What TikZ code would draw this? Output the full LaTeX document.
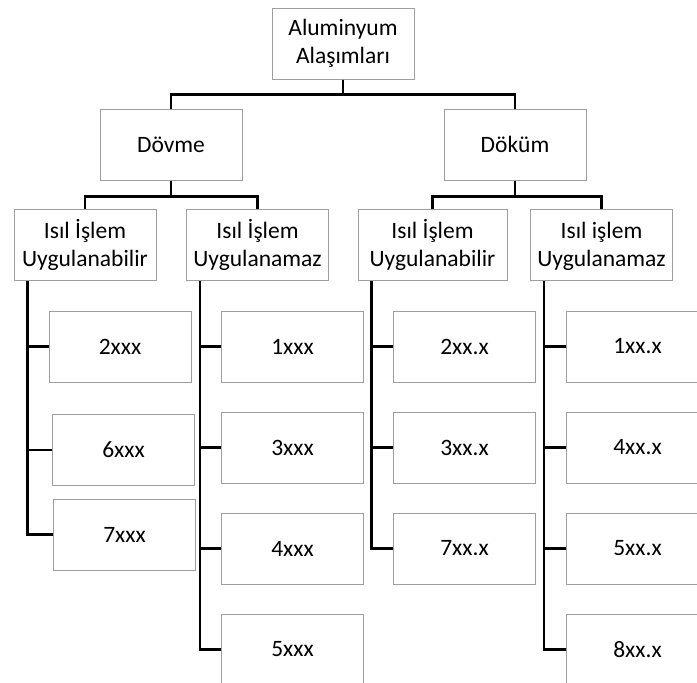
\documentclass[tikz,border=0pt]{standalone}
\usepackage{fontspec}
\setmainfont{Carlito}

\begin{document}
\begin{tikzpicture}[x=1pt,y=-1pt,
    box/.style={draw=black!38,line width=1pt,minimum width=142pt,
        minimum height=71pt,inner sep=0pt,align=center,
        font=\fontsize{23.5}{28}\selectfont},
    link/.style={line width=2.4pt}]
    \useasboundingbox (0,0) rectangle (697,683);
    \clip (0,0) rectangle (697,683);
    % Top levels
    \node[box] (alu) at (343,43.5) {Aluminyum\\Alaşımları};
    \node[box] (dovme) at (171,144.5) {Dövme};
    \node[box] (dokum) at (515,144.5) {Döküm};
    \node[box] (dIsil) at (85,245) {Isıl İşlem\\Uygulanabilir};
    \node[box] (dIsilz) at (257.5,245) {Isıl İşlem\\Uygulanamaz};
    \node[box,minimum width=149pt] (kIsil) at (432.5,245) {Isıl İşlem\\Uygulanabilir};
    \node[box] (kIsilz) at (601.5,245) {\vphantom{İ}Isıl işlem\\Uygulanamaz};
    % Alloy series
    \node[box] (d2) at (120,346.5) {2xxx};
    \node[box] (d6) at (123.5,450) {6xxx};
    \node[box] (d7) at (124.5,534.5) {7xxx};
    \node[box] (d1) at (292.5,346.5) {1xxx};
    \node[box] (d3) at (292.5,447.5) {3xxx};
    \node[box] (d4) at (292.5,548.5) {4xxx};
    \node[box] (d5) at (292.5,649.5) {5xxx};
    \node[box] (k2) at (464.5,346.5) {2xx.x};
    \node[box] (k3) at (464.5,447.5) {3xx.x};
    \node[box] (k7) at (464.5,548.5) {7xx.x};
    \node[box] (k1) at (637.5,346.5) {1xx.x};
    \node[box] (k4) at (637.5,447.5) {4xx.x};
    \node[box] (k5) at (637.5,548.5) {5xx.x};
    \node[box] (k8) at (637.5,649.5) {8xx.x};

    % Tree connectors
    \draw[link] (alu.south) -- ++(0,15) -| (dovme.north);
    \draw[link] (alu.south) -- ++(0,15) -| (dokum.north);
    \draw[link] (dovme.south) -- ++(0,16) -| (dIsil.north);
    \draw[link] (dovme.south) -- ++(0,16) -| (dIsilz.north);
    \draw[link] (dokum.south) -- ++(0,16) -| (kIsil.north);
    \draw[link] (dokum.south) -- ++(0,16) -| (kIsilz.north);

    % Side spines
    \coordinate (s1) at ([xshift=14pt]dIsil.south west);
    \coordinate (s2) at ([xshift=14pt]dIsilz.south west);
    \coordinate (s3) at ([xshift=14pt]kIsil.south west);
    \coordinate (s4) at ([xshift=14pt]kIsilz.south west);
    \draw[link] (s1) |- (d7.west);
    \draw[link] (s1 |- d2.west) -- (d2.west);
    \draw[link] (s1 |- d6.west) -- (d6.west);
    \draw[link] (s2) |- (d5.west);
    \foreach \n in {d1,d3,d4}
        \draw[link] (s2 |- \n.west) -- (\n.west);
    \draw[link] (s3) |- (k7.west);
    \foreach \n in {k2,k3}
        \draw[link] (s3 |- \n.west) -- (\n.west);
    \draw[link] (s4) |- (k8.west);
    \foreach \n in {k1,k4,k5}
        \draw[link] (s4 |- \n.west) -- (\n.west);
\end{tikzpicture}
\end{document}
